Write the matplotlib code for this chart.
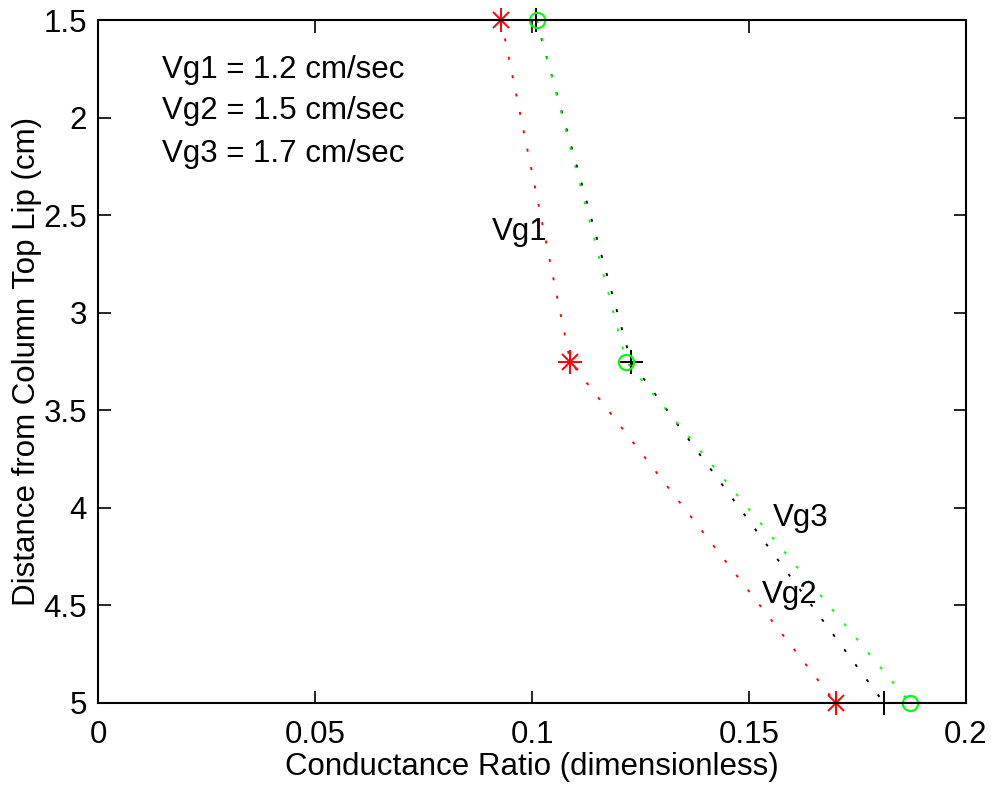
import matplotlib
matplotlib.use('Agg')
import matplotlib.pyplot as plt

plt.rcParams['font.family'] = ['Liberation Sans', 'DejaVu Sans']

depth = [1.5, 3.25, 5.0]
vg1 = [0.0929, 0.1088, 0.1700]
vg2 = [0.1010, 0.1228, 0.1811]
vg3 = [0.1012, 0.1217, 0.1871]

fs = 22.5
dots = (0, (1.6, 8.4))

fig = plt.figure(figsize=(9.92, 7.92), dpi=100)
ax = fig.add_axes([0.0988, 0.1124, 0.875, 0.8623])

# Vg1 red asterisks
ax.plot(vg1, depth, color='red', lw=1.35, ls=dots, clip_on=False)
ax.plot(vg1, depth, '+', color='red', ms=17, mew=1.4, ls='none', clip_on=False)
ax.plot(vg1, depth, 'x', color='red', ms=12, mew=1.4, ls='none', clip_on=False)
# Vg2 black plus
ax.plot(vg2, depth, color='black', lw=1.35, ls=dots, clip_on=False)
ax.plot(vg2, depth, '+', color='black', ms=17, mew=1.4, ls='none', clip_on=False)
# Vg3 green circles
ax.plot(vg3, depth, color='#00ff00', lw=1.35, ls=dots, clip_on=False)
ax.plot(vg3, depth, 'o', color='#00ff00', ms=11, mfc='none', mew=1.5,
        ls='none', clip_on=False)

ax.text(0.0908, 2.587, 'Vg1', fontsize=fs, ha='left', va='center')
ax.text(0.1555, 4.053, 'Vg3', fontsize=fs, ha='left', va='center')
ax.text(0.1530, 4.447, 'Vg2', fontsize=fs, ha='left', va='center')

ax.text(0.01475, 1.756, 'Vg1 = 1.2 cm/sec', fontsize=fs, va='center')
ax.text(0.01475, 1.966, 'Vg2 = 1.5 cm/sec', fontsize=fs, va='center')
ax.text(0.01475, 2.187, 'Vg3 = 1.7 cm/sec', fontsize=fs, va='center')

ax.set_xlim(0, 0.2)
ax.set_ylim(5, 1.5)
ax.set_xticks([0, 0.05, 0.1, 0.15, 0.2])
ax.set_xticklabels(['0', '0.05', '0.1', '0.15', '0.2'])
ax.set_yticks([1.5, 2, 2.5, 3, 3.5, 4, 4.5, 5])
ax.set_yticklabels(['1.5', '2', '2.5', '3', '3.5', '4', '4.5', '5'])
ax.tick_params(direction='in', top=True, right=True, length=9, width=1.2,
               labelsize=fs)
ax.tick_params(axis='x', pad=12)
ax.tick_params(axis='y', pad=8)
for s in ax.spines.values():
    s.set_linewidth(1.5)

ax.set_xlabel('Conductance Ratio (dimensionless)', fontsize=fs, labelpad=2)
ax.set_ylabel('Distance from Column Top Lip (cm)', fontsize=fs, labelpad=1)

fig.savefig('out.png', dpi=100)
